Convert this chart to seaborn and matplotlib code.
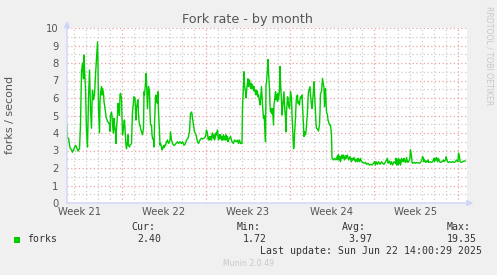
import matplotlib
matplotlib.use("Agg")
import matplotlib.pyplot as plt
import matplotlib.dates as mdates
from matplotlib.patches import Rectangle
from matplotlib.transforms import blended_transform_factory
import seaborn as sns
import pandas as pd

# ---------------- data (hours after the left edge of the graph, forks/s) ----------------
graph_start = "2025-05-20 10:00"
graph_end = "2025-06-22 18:00"

hours = [
    0, 1, 3, 6, 9, 11, 14, 17, 19, 22, 25, 27, 29, 31, 33, 34, 35, 37, 38, 39,
    41, 43, 45, 46, 47, 49, 50, 51, 53, 54, 55, 57, 59, 61, 62, 63, 65, 66, 67, 69,
    70, 71, 73, 74, 75, 77, 78, 81, 83, 85, 86, 87, 89, 90, 91, 93, 94, 95, 97, 98,
    99, 101, 102, 103, 105, 106, 107, 109, 110, 111, 113, 114, 115, 117, 118, 119, 121, 122, 123, 125,
    126, 129, 131, 134, 136, 138, 139, 141, 142, 143, 145, 146, 147, 149, 150, 151, 153, 154, 155, 157,
    158, 159, 161, 162, 163, 165, 166, 167, 169, 170, 171, 173, 174, 175, 177, 178, 179, 181, 182, 183,
    185, 186, 187, 189, 190, 191, 193, 194, 195, 197, 198, 199, 201, 202, 203, 205, 206, 207, 209, 210,
    211, 213, 215, 218, 221, 223, 226, 229, 231, 234, 237, 239, 242, 245, 246, 247, 249, 250, 251, 253, 255,
    258, 261, 263, 266, 269, 271, 274, 277, 279, 281, 282, 283, 285, 286, 287, 289, 290, 291, 293, 294,
    295, 297, 298, 299, 301, 302, 303, 305, 306, 307, 309, 310, 311, 313, 314, 315, 317, 318, 319, 321,
    322, 323, 325, 327, 330, 333, 335, 338, 341, 343, 345, 346, 347, 350, 351, 353, 354, 355, 357, 358,
    359, 361, 362, 363, 365, 366, 367, 369, 370, 371, 373, 374, 375, 377, 378, 379, 381, 382, 383, 385,
    386, 387, 389,
    391, 393, 394, 395, 397, 398, 399, 401, 402, 403, 405, 406, 407, 409, 410, 411, 413, 414, 415, 417,
    418, 419, 421, 422, 423, 425, 426, 427, 429, 430, 431, 433, 434, 435, 437, 438, 439, 441, 442, 443,
    445, 446, 447, 449, 450, 451, 453, 454, 455, 457, 458, 459, 461, 462, 463, 465, 466, 467, 469, 470,
    471, 473, 474, 475, 477, 478, 479, 481, 482, 483, 485, 486, 487, 489, 490, 491, 493, 494, 495, 497,
    498, 499, 501, 502, 503, 505, 506, 507, 509, 510, 511, 513, 514, 515, 517, 518, 519, 521,
    522, 525, 527, 529, 530, 533, 535, 538, 541, 542, 543, 545, 546, 547, 549, 550, 551, 553, 554, 555,
    557, 558, 559, 561, 562, 563, 565, 566, 567, 569, 570, 571, 573, 574, 575, 577, 578, 579, 581, 582,
    583, 585, 586, 587, 589, 591, 594, 597, 599, 602, 605, 607, 610, 613, 615, 617, 618, 621, 623, 626,
    629, 631, 634, 637, 639, 641, 642, 645, 647, 649, 651, 654,
    657, 658, 659, 661, 662, 663, 665, 666, 667, 669, 670, 671, 673, 674, 675, 677, 678, 679, 681, 682,
    683, 685, 686, 687, 689, 690, 691, 694, 697, 699, 702, 705, 707, 710, 711, 713, 714, 715, 717, 718,
    719, 721, 722, 723, 726, 729, 731, 733, 734, 735, 737, 738, 739, 741, 742, 743, 745, 747, 750, 753,
    754, 757, 758, 759, 761, 763, 766, 769, 771, 774, 777, 779, 782, 783, 785, 786, 789, 791, 794, 797,
]

forks = [
    4.46, 3.7, 3.7, 3.16, 3.03, 2.9, 3.1, 3.3, 3.2, 2.97, 3.1, 4.46, 7.5, 8.0, 7.1, 8.46, 7.7, 6.55, 5.2, 4.1,
    3.2, 6.0, 7.6, 6.55, 5.4, 4.27, 5.6, 6.45, 5.9, 6.07, 6.17, 7.3, 8.27, 9.2, 7.9, 5.4, 4.0, 5.8, 6.27, 6.65,
    6.17, 6.55, 6.27, 5.8, 5.6, 5.2, 4.93, 4.65, 4.6, 4.46, 4.1, 5.0, 5.2, 5.0, 4.46, 4.0, 4.84, 4.46, 4.07, 3.4,
    4.27, 5.0, 5.7, 5.5, 5.0, 6.17, 6.27, 6.0, 5.0, 3.9, 4.27, 4.65, 4.74, 3.8, 3.3, 3.1, 3.5, 3.9, 3.3, 3.2,
    3.3, 3.4, 5.2, 6.07, 6.0, 4.74, 5.4, 5.8, 5.9, 5.0, 4.46, 4.46, 4.27, 4.07, 4.0, 3.9, 4.27, 6.36, 6.17, 6.84,
    7.4, 7.0, 5.4, 6.0, 6.65, 6.36, 5.2, 4.46, 4.46, 3.9, 3.7, 3.6, 3.2, 4.46, 6.07, 6.17, 5.8, 5.7, 6.36, 5.2,
    4.07, 3.3, 3.4, 3.2, 3.03, 3.1, 3.27, 3.16, 3.3, 3.27, 3.4, 3.5, 3.6, 3.47, 3.4, 3.5, 3.6, 4.07, 3.6, 3.5,
    3.4, 3.3, 3.3, 3.4, 3.5, 3.4, 3.5, 3.4, 3.5, 3.3, 3.4, 3.6, 3.7, 4.07, 4.65, 5.1, 5.2, 5.1, 4.84, 4.46, 4.07,
    3.9, 3.5, 3.4, 3.6, 3.7, 3.66, 3.7, 3.8, 4.17, 4.0, 3.7, 3.6, 3.8, 3.6, 3.8, 3.6, 3.9, 4.0, 3.7, 3.9,
    3.6, 3.8, 4.0, 3.9, 4.17, 3.8, 3.6, 3.9, 3.7, 3.9, 3.6, 3.8, 3.6, 3.9, 3.6, 3.8, 3.6, 3.9, 3.6, 3.8,
    3.5, 3.6, 3.7, 3.8, 3.5, 3.4, 3.6, 3.5, 3.6, 3.4, 3.6, 3.5, 3.4, 3.4, 5.4, 6.9, 7.5, 6.74, 6.36, 6.0,
    6.36, 6.9, 7.1, 6.65, 7.03, 6.84, 6.55, 6.84, 6.55, 6.74, 6.45, 6.65, 6.36, 6.45, 6.17, 6.45, 6.36, 6.07, 6.17, 5.8,
    5.6, 5.9, 6.65,
    5.6, 4.84, 5.0, 4.65, 3.5, 6.74, 6.9, 7.7, 8.2, 7.5, 6.55, 5.6, 5.2, 5.4, 5.1, 5.4, 4.46, 5.6, 5.8, 6.36,
    5.9, 6.17, 5.8, 6.27, 5.9, 6.45, 7.8, 6.93, 5.8, 5.03, 5.4, 6.0, 6.36, 5.6, 4.84, 4.07, 5.2, 6.07, 6.0, 5.6,
    5.4, 5.8, 6.36, 6.0, 5.03, 4.46, 3.1, 3.2, 3.9, 4.84, 5.6, 6.07, 6.17, 5.7, 5.8, 5.6, 5.9, 6.07, 6.0, 6.17,
    5.6, 4.46, 3.8, 4.07, 3.9, 4.07, 4.46, 5.2, 5.9, 6.36, 6.55, 6.65, 6.17, 5.6, 5.4, 5.7, 6.45, 6.93, 6.36, 5.2,
    4.55, 4.27, 4.23, 4.17, 4.11, 4.46, 5.2, 6.27, 6.36, 6.74, 7.12, 6.74, 6.55, 5.5, 6.55, 5.9, 5.2, 5.03,
    4.74, 4.46, 4.46, 3.9, 2.55, 2.46, 2.55, 2.46, 2.7, 2.46, 2.78, 2.46, 2.65, 2.36, 2.65, 2.74, 2.55, 2.74, 2.55, 2.46,
    2.7, 2.55, 2.65, 2.74, 2.55, 2.46, 2.6, 2.65, 2.53, 2.36, 2.55, 2.46, 2.55, 2.6, 2.46, 2.36, 2.51, 2.46, 2.36, 2.55,
    2.46, 2.36, 2.51, 2.55, 2.36, 2.32, 2.27, 2.32, 2.21, 2.27, 2.17, 2.21, 2.17, 2.27, 2.36, 2.17, 2.36, 2.21, 2.36, 2.21,
    2.36, 2.27, 2.21, 2.36, 2.46, 2.55, 2.27, 2.4, 2.21, 2.36, 2.17, 2.36,
    2.27, 2.55, 2.17, 2.46, 2.17, 2.55, 2.27, 2.46, 2.17, 2.55, 2.36, 2.46, 2.36, 2.55, 2.46, 2.32, 2.36, 2.6, 2.36, 2.32,
    2.36, 2.46, 2.65, 3.05, 2.65, 2.36, 2.27, 2.32, 2.27, 2.32, 2.29, 2.27, 2.32, 2.46, 2.65, 2.55, 2.36, 2.46, 2.36, 2.32,
    2.4, 2.36, 2.46, 2.32, 2.36, 2.32, 2.36, 2.46, 2.55, 2.36, 2.55, 2.46, 2.6, 2.36, 2.46, 2.55, 2.36, 2.32, 2.36, 2.46,
    2.36, 2.46, 2.65, 2.55, 2.36, 2.32, 2.36, 2.32, 2.36, 2.32, 2.36, 2.46, 2.36, 2.85, 2.65, 2.36, 2.32, 2.36, 2.4, 2.4,
]

y_ticks = [0, 1, 2, 3, 4, 5, 6, 7, 8, 9, 10]
legend_heads = ["Cur:", "Min:", "Avg:", "Max:"]
legend_vals = ["2.40", "1.72", "3.97", "19.35"]
title = "Fork rate - by month"
y_label = "forks / second"
last_update = "Last update: Sun Jun 22 14:00:29 2025"

# ---------------- styling ----------------
W, H = 497, 275
GREEN = "#00cc00"
MGRID = "#eba3a3"
GRID = "#cdcdcd"
AXIS = "#cfd6f8"
FONT = "#555555"

sns.set_theme(style="white")
plt.rcParams["font.family"] = ["DejaVu Sans"]

start = pd.Timestamp(graph_start)
end = pd.Timestamp(graph_end)
df = pd.DataFrame({"time": start + pd.to_timedelta(hours, unit="h"), "forks": forks})

fig = plt.figure(figsize=(W / 100, H / 100), dpi=100, facecolor="#f0f0f0")
L, R, T, B = 67, 467, 28, 203
ax = fig.add_axes([L / W, 1 - B / H, (R - L) / W, (B - T) / H])
ax.set_facecolor("white")

sns.lineplot(data=df, x="time", y="forks", ax=ax, color=GREEN, lw=1.0,
             legend=False, zorder=5)

ax.set_xlim(start, end)
ax.set_ylim(0, 10)
ax.set_xlabel("")
ax.set_ylabel("")

# y grid
ax.set_yticks(y_ticks)
ax.set_yticks([v + 0.5 for v in y_ticks[:-1]], minor=True)
ax.set_yticklabels([str(v) for v in y_ticks])
# x grid: day lines, week (Sunday) lines
ax.xaxis.set_major_locator(mdates.WeekdayLocator(byweekday=mdates.SU))
ax.xaxis.set_minor_locator(mdates.DayLocator())
ax.tick_params(axis="x", which="major", labelbottom=False, length=3, width=0.8, color=MGRID)
ax.tick_params(axis="x", which="minor", length=2, width=0.8, color=GRID)
ax.tick_params(axis="y", which="major", length=2, width=0.8, color=MGRID,
               labelsize=7.2, labelcolor=FONT, pad=4)
ax.tick_params(axis="y", which="minor", length=2, width=0.8, color=GRID)

ax.grid(which="minor", color=GRID, lw=0.9, linestyle=(0, (1, 2)), zorder=1)
ax.grid(which="major", color=MGRID, lw=0.9, linestyle=(0, (1, 2)), zorder=2)
ax.set_axisbelow(True)

for s in ax.spines.values():
    s.set_visible(False)

# axes with arrows
ax.annotate("", xy=(1.016, 0), xytext=(0, 0), xycoords="axes fraction",
            arrowprops=dict(arrowstyle="-|>", color=AXIS, lw=1, mutation_scale=9,
                            shrinkA=0, shrinkB=0), annotation_clip=False, zorder=6)
ax.annotate("", xy=(0, 1.04), xytext=(0, 0), xycoords="axes fraction",
            arrowprops=dict(arrowstyle="-|>", color=AXIS, lw=1, mutation_scale=9,
                            shrinkA=0, shrinkB=0), annotation_clip=False, zorder=6)

# week labels centred in each Sunday-to-Sunday week
trans = blended_transform_factory(ax.transData, fig.transFigure)
for sunday in pd.date_range(start.normalize() - pd.Timedelta(days=7), end, freq="W-SUN"):
    centre = sunday + pd.Timedelta(hours=84)
    if start <= centre <= end:
        ax.text(mdates.date2num(centre), 1 - 212 / H, centre.strftime("Week %V"),
                transform=trans, ha="center", va="center", fontsize=7.2, color=FONT)

# title and labels
fig.text(248 / W, 1 - 19.5 / H, title, ha="center", va="center", fontsize=9.2, color=FONT)
fig.text(10 / W, 1 - 115 / H, y_label, rotation=90, ha="center", va="center",
         fontsize=8, color=FONT)
fig.text(488.5 / W, 1 - 56 / H, "RRDTOOL / TOBI OETIKER", rotation=270,
         ha="center", va="center", fontsize=5.6, color="#c8c8c8")
fig.text(249 / W, 1 - 264 / H, "Munin 2.0.49", ha="center", va="center",
         fontsize=5.6, color="#c8c8c8")

# legend
MONO = dict(family="DejaVu Sans Mono", fontsize=7.1, color="#333333", va="center")
fig.patches.append(Rectangle((14 / W, 1 - 243 / H), 6 / W, 6 / H, transform=fig.transFigure,
                             facecolor=GREEN, edgecolor="none"))
fig.text(27 / W, 1 - 239.5 / H, "forks", ha="left", **MONO)
head_x = [131, 237, 342, 447]
val_right = [161, 267, 372, 477]
for hx, vr, hd, vl in zip(head_x, val_right, legend_heads, legend_vals):
    fig.text(hx / W, 1 - 227.5 / H, hd, ha="left", **MONO)
    fig.text(vr / W, 1 - 239.5 / H, vl, ha="right", **MONO)
fig.text(482 / W, 1 - 251.5 / H, last_update, ha="right", **MONO)

fig.savefig("out.png", dpi=100, facecolor=fig.get_facecolor())
